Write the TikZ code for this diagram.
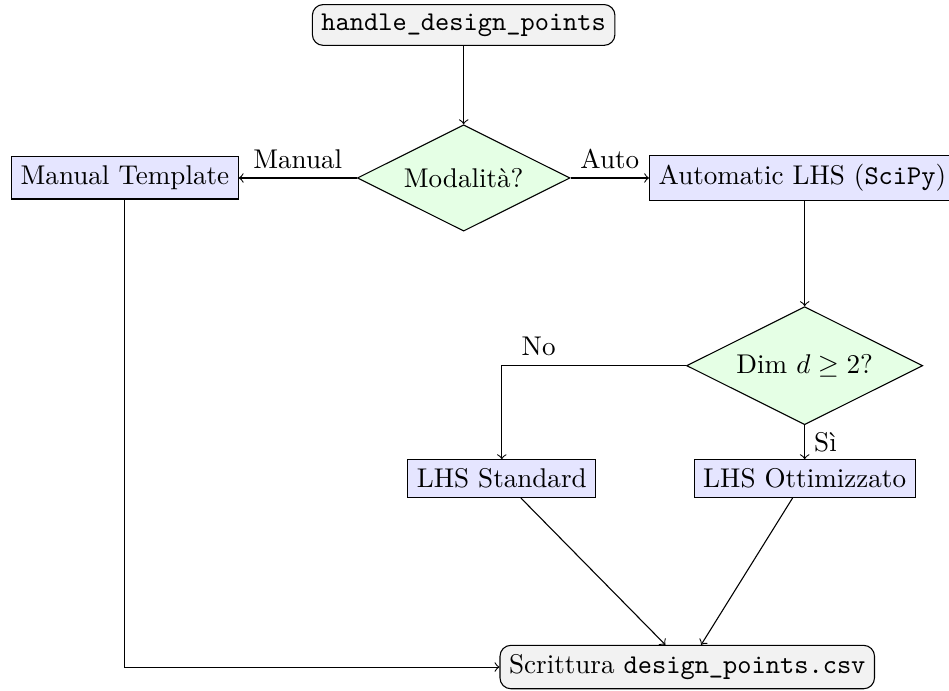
\documentclass[tikz,border=0pt]{standalone}
\usepackage{fontspec}
\usetikzlibrary{shapes.geometric}

\tikzset{
  terminal/.style={draw, rounded corners=4pt, fill=gray!10},
  process/.style={draw, fill=blue!10},
  decision/.style={draw, diamond, aspect=2, fill=green!10},
  flow/.style={->},
}

\begin{document}
\begin{tikzpicture}[x=0.97cm, y=0.97cm]
  \useasboundingbox (0,0) rectangle (12.69,-9.24);

  % nodes
  \node[terminal] (start) at (6.20,-0.334) {\texttt{handle\_design\_points}};
  \node[decision] (mode) at (6.20,-2.38) {Modalità?};
  \node[process] (manual) at (1.67,-2.38) {Manual Template};
  \node[process] (auto) at (10.73,-2.38) {Automatic LHS (\texttt{SciPy})};
  \node[decision] (dim) at (10.76,-4.89) {Dim $d \geq 2$?};
  \node[process] (std) at (6.71,-6.40) {LHS Standard};
  \node[process] (opt) at (10.76,-6.40) {LHS Ottimizzato};
  \node[terminal] (out) at (9.19,-8.92) {Scrittura \texttt{design\_points.csv}};

  % connectors
  \draw[flow] (start) -- (mode);
  \draw[flow] (mode) -- node[above] {Manual} (manual);
  \draw[flow] (mode) -- node[above] {Auto} (auto);
  \draw[flow] (auto.south -| dim.north) -- (dim.north);
  \draw[flow] (dim.west) -| node[above, pos=0.4] {No} (std.north);
  \draw[flow] (dim) -- node[right] {Sì} (opt);
  \draw[flow] (std) -- (out);
  \draw[flow] (opt) -- (out);
  \draw[flow] (manual) |- (out);
\end{tikzpicture}
\end{document}
